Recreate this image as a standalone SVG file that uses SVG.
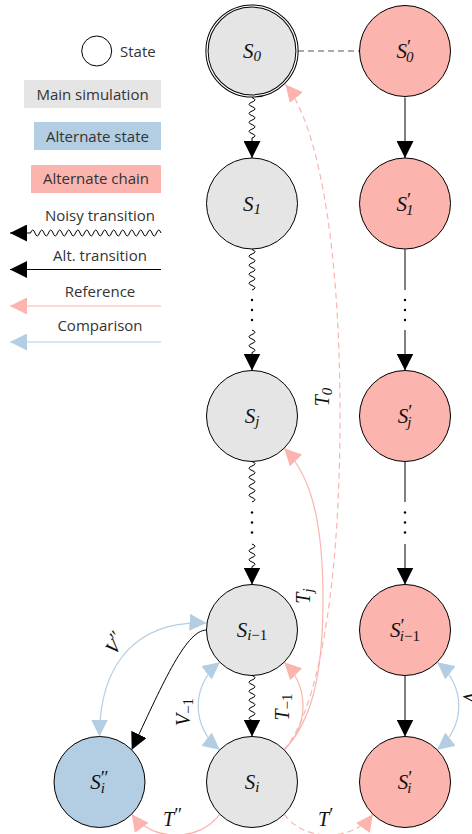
<svg xmlns="http://www.w3.org/2000/svg" width="472" height="834" viewBox="0 0 472 834">
<style>
.nd{stroke:#000;stroke-width:1}
.gm{fill:#e5e5e5}
.pk{fill:#fbb4ae}
.bl{fill:#b3cde3}
.math{font-family:"Liberation Serif","Times New Roman","DejaVu Serif",serif;font-size:21px;font-style:italic;fill:#111}
.lab{font-size:20px}
.sub{font-size:15px}
.pr{font-size:19px;font-style:normal}
.rm{font-style:normal}
.leg{font-family:"Open Sans","Noto Sans",sans-serif;font-size:15px;fill:#333}
.w{fill:none;stroke:#000;stroke-width:1}
.r{fill:none;stroke:#fbb4ae;stroke-width:1.2}
.c{fill:none;stroke:#b3cde3;stroke-width:1.2}
.d{stroke-dasharray:6 4}
.dot{fill:#000}
</style>
<defs>
<marker id="ab" markerUnits="userSpaceOnUse" markerWidth="17" markerHeight="17" viewBox="0 0 17 17" refX="17" refY="8.5" orient="auto-start-reverse"><path d="M0,0 L17,8.5 L0,17 Z" fill="#000"/></marker>
<marker id="ap" markerUnits="userSpaceOnUse" markerWidth="17" markerHeight="17" viewBox="0 0 17 17" refX="17" refY="8.5" orient="auto-start-reverse"><path d="M0,0 L17,8.5 L0,17 Z" fill="#fbb4ae"/></marker>
<marker id="ac" markerUnits="userSpaceOnUse" markerWidth="17" markerHeight="17" viewBox="0 0 17 17" refX="17" refY="8.5" orient="auto-start-reverse"><path d="M0,0 L17,8.5 L0,17 Z" fill="#b3cde3"/></marker>
</defs>
<rect width="472" height="834" fill="#fff"/>

<g id="legend">
  <circle cx="96.7" cy="51" r="15" fill="#fff" stroke="#000" stroke-width="1"/>
  <text class="leg" x="120" y="57">State</text>
  <rect x="24" y="80" width="137" height="28" class="gm"/>
  <text class="leg" x="92.5" y="100" text-anchor="middle">Main simulation</text>
  <rect x="34" y="122" width="127" height="28" class="bl"/>
  <text class="leg" x="97.5" y="142" text-anchor="middle">Alternate state</text>
  <rect x="31" y="165" width="130" height="28" class="pk"/>
  <text class="leg" x="96" y="184" text-anchor="middle">Alternate chain</text>
  <text class="leg" x="100" y="221" text-anchor="middle">Noisy transition</text>
  <path class="w" marker-end="url(#ab)" d="M161,233 q-2.25,-6 -4.5,0 t-4.5,0 t-4.5,0 t-4.5,0 t-4.5,0 t-4.5,0 t-4.5,0 t-4.5,0 t-4.5,0 t-4.5,0 t-4.5,0 t-4.5,0 t-4.5,0 t-4.5,0 t-4.5,0 t-4.5,0 t-4.5,0 t-4.5,0 t-4.5,0 t-4.5,0 t-4.5,0 t-4.5,0 t-4.5,0 t-4.5,0 t-4.5,0 t-4.5,0 t-4.5,0 t-4.5,0 t-4.5,0 H10"/>
  <text class="leg" x="100" y="261" text-anchor="middle">Alt. transition</text>
  <path class="w" marker-end="url(#ab)" d="M161,269.5 H10"/>
  <text class="leg" x="100" y="297" text-anchor="middle">Reference</text>
  <path class="r" marker-end="url(#ap)" d="M161,306 H10"/>
  <text class="leg" x="100" y="331" text-anchor="middle">Comparison</text>
  <path class="c" marker-end="url(#ac)" d="M161,342 H10"/>
</g>

<g id="connectors">
  <path d="M298,51 H359.5" fill="none" stroke="#555" stroke-width="1" stroke-dasharray="6 4"/>
  <path class="w" marker-end="url(#ab)" d="M252,97.6 q6,2.25 0,4.5 t0,4.5 t0,4.5 t0,4.5 t0,4.5 t0,4.5 t0,4.5 t0,4.5 t0,4.5 V158"/>
  <path class="w" d="M252,249.5 q6,2.25 0,4.5 t0,4.5 t0,4.5 t0,4.5 t0,4.5 t0,4.5 t0,4.5 t0,4.5 t0,4.5"/>
  <circle class="dot" cx="252" cy="300" r="1.2"/><circle class="dot" cx="252" cy="310" r="1.2"/><circle class="dot" cx="252" cy="320" r="1.2"/>
  <path class="w" marker-end="url(#ab)" d="M252,330 q6,2.25 0,4.5 t0,4.5 t0,4.5 t0,4.5 t0,4.5 V370.5"/>
  <path class="w" d="M252,461.5 q6,2.25 0,4.5 t0,4.5 t0,4.5 t0,4.5 t0,4.5 t0,4.5 t0,4.5 t0,4.5 t0,4.5"/>
  <circle class="dot" cx="252" cy="512.5" r="1.2"/><circle class="dot" cx="252" cy="522.5" r="1.2"/><circle class="dot" cx="252" cy="532.5" r="1.2"/>
  <path class="w" marker-end="url(#ab)" d="M252,544 q6,2.25 0,4.5 t0,4.5 t0,4.5 t0,4.5 t0,4.5 V584.5"/>
  <path class="w" marker-end="url(#ab)" d="M252,675.5 q6,2.25 0,4.5 t0,4.5 t0,4.5 t0,4.5 t0,4.5 t0,4.5 t0,4.5 t0,4.5 t0,4.5 t0,4.5 V736.5"/>
  <path class="w" marker-end="url(#ab)" d="M405,97.5 V158"/>
  <path class="w" d="M405,249.5 V290"/>
  <circle class="dot" cx="405" cy="300" r="1.2"/><circle class="dot" cx="405" cy="310" r="1.2"/><circle class="dot" cx="405" cy="320" r="1.2"/>
  <path class="w" marker-end="url(#ab)" d="M405,330 V370.5"/>
  <path class="w" d="M405,461.5 V502"/>
  <circle class="dot" cx="405" cy="512.5" r="1.2"/><circle class="dot" cx="405" cy="522.5" r="1.2"/><circle class="dot" cx="405" cy="532.5" r="1.2"/>
  <path class="w" marker-end="url(#ab)" d="M405,544 V584.5"/>
  <path class="w" marker-end="url(#ab)" d="M405,675.5 V736.5"/>
  <path class="w" marker-end="url(#ab)" d="M206.5,630 C185,630 160,690 131.7,749.8"/>
  <path class="c" marker-start="url(#ac)" marker-end="url(#ac)" d="M99.5,736.5 C99.5,660 140,620 206.5,623"/>
  <path class="c" marker-start="url(#ac)" marker-end="url(#ac)" d="M219.8,662.2 C191,685 191,727 219.8,749.8"/>
  <path class="c" marker-start="url(#ac)" marker-end="url(#ac)" d="M437.2,662.2 C466,685 466,727 437.2,749.8"/>
  <path class="r" marker-end="url(#ap)" d="M284.2,749.8 C297,737 303,722 303,706 C303,690 297,675 284.2,662.2"/>
  <path class="r" marker-end="url(#ap)" d="M284.2,749.8 C310,723 323,680 323,599 C323,518 310,475 284.2,448.2"/>
  <path class="r d" marker-end="url(#ap)" d="M284.2,749.8 C315,714 340,602 340,416 C340,230 315,120 285.5,84.5"/>
  <path class="r" marker-end="url(#ap)" d="M219.8,814.2 C200,842 152,842 131.7,814.2"/>
  <path class="r d" marker-end="url(#ap)" d="M284.2,814.2 C304,842 353,842 372.8,814.2"/>
  <text class="math lab" transform="translate(329,397) rotate(-90)" text-anchor="middle">T<tspan class="sub" dy="3">0</tspan></text>
  <text class="math lab" transform="translate(310,596) rotate(-90)" text-anchor="middle">T<tspan class="sub" dy="3">j</tspan></text>
  <text class="math lab" transform="translate(289,707) rotate(-90)" text-anchor="middle">T<tspan class="sub rm" dy="3">−1</tspan></text>
  <text class="math lab" transform="translate(190,712) rotate(-90)" text-anchor="middle">V<tspan class="sub rm" dy="3">−1</tspan></text>
  <text class="math lab" transform="translate(121,648) rotate(-52)" text-anchor="middle">V<tspan class="pr" dy="-5">″</tspan></text>
  <text class="math lab" transform="translate(463,691) rotate(90)">V<tspan class="pr" dy="-5">′</tspan></text>
  <text class="math lab" x="163" y="826">T<tspan class="pr" dy="-5">″</tspan></text>
  <text class="math lab" x="318" y="826">T<tspan class="pr" dy="-5">′</tspan></text>
</g>

<g id="S0">
  <circle cx="252" cy="51" r="45" class="gm" stroke="#000" stroke-width="3.2"/>
  <circle cx="252" cy="51" r="45" fill="none" stroke="#fff" stroke-width="1.2"/>
  <text class="math" x="252" y="58" text-anchor="middle">S<tspan class="sub" dy="3">0</tspan></text>
</g>
<g id="S1">
  <circle cx="252" cy="203.5" r="45.5" class="nd gm"/>
  <text class="math" x="252" y="210.5" text-anchor="middle">S<tspan class="sub" dy="3">1</tspan></text>
</g>
<g id="Sj">
  <circle cx="252" cy="416" r="45.5" class="nd gm"/>
  <text class="math" x="252" y="423" text-anchor="middle">S<tspan class="sub" dy="3">j</tspan></text>
</g>
<g id="Si-1">
  <circle cx="252" cy="630" r="45.5" class="nd gm"/>
  <text class="math" x="252" y="637" text-anchor="middle">S<tspan class="sub" dy="3">i<tspan class="rm">−1</tspan></tspan></text>
</g>
<g id="Si">
  <circle cx="252" cy="782" r="45.5" class="nd gm"/>
  <text class="math" x="252" y="789" text-anchor="middle">S<tspan class="sub" dy="3">i</tspan></text>
</g>
<g id="Si2">
  <circle cx="99.5" cy="782" r="45.5" class="nd bl"/>
  <text class="math" x="99.5" y="789" text-anchor="middle">S<tspan class="pr" dy="-5">″</tspan><tspan class="sub" dx="-8" dy="9">i</tspan></text>
</g>
<g id="Sp0">
  <circle cx="405" cy="51" r="45.5" class="nd pk"/>
  <text class="math" x="405" y="58" text-anchor="middle">S<tspan class="pr" dy="-5">′</tspan><tspan class="sub" dx="-5" dy="9">0</tspan></text>
</g>
<g id="Sp1">
  <circle cx="405" cy="203.5" r="45.5" class="nd pk"/>
  <text class="math" x="405" y="210.5" text-anchor="middle">S<tspan class="pr" dy="-5">′</tspan><tspan class="sub" dx="-5" dy="9">1</tspan></text>
</g>
<g id="Spj">
  <circle cx="405" cy="416" r="45.5" class="nd pk"/>
  <text class="math" x="405" y="423" text-anchor="middle">S<tspan class="pr" dy="-5">′</tspan><tspan class="sub" dx="-5" dy="9">j</tspan></text>
</g>
<g id="Spi-1">
  <circle cx="405" cy="630" r="45.5" class="nd pk"/>
  <text class="math" x="405" y="637" text-anchor="middle">S<tspan class="pr" dy="-5">′</tspan><tspan class="sub" dx="-5" dy="9">i<tspan class="rm">−1</tspan></tspan></text>
</g>
<g id="Spi">
  <circle cx="405" cy="782" r="45.5" class="nd pk"/>
  <text class="math" x="405" y="789" text-anchor="middle">S<tspan class="pr" dy="-5">′</tspan><tspan class="sub" dx="-5" dy="9">i</tspan></text>
</g>
</svg>
